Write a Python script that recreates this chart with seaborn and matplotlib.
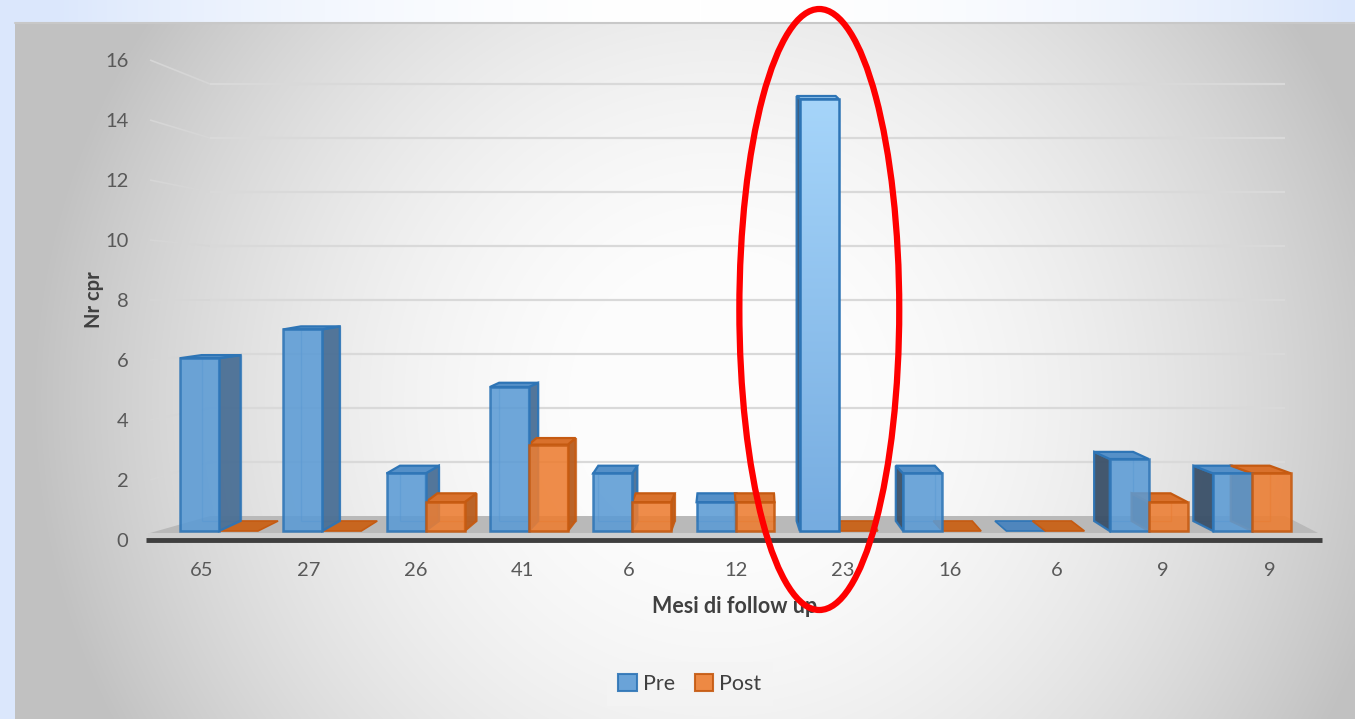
import numpy as np
import pandas as pd
import matplotlib
matplotlib.use("Agg")
import matplotlib.pyplot as plt
import seaborn as sns
from matplotlib.patches import Polygon, Ellipse, Patch
from matplotlib.colors import to_rgb

# ---- data -------------------------------------------------------------
mesi = ["65", "27", "26", "41", "6", "12", "23", "16", "6", "9", "9"]
pre = [6, 7, 2, 5, 2, 1, 15, 2, 0, 2.5, 2]
post = [0, 0, 1, 3, 1, 1, 0, 0, 0, 1, 2]
fasi = ["Pre", "Post"]
y_ticks = [0, 2, 4, 6, 8, 10, 12, 14, 16]

# ---- style ------------------------------------------------------------
W, H = 1355, 719
sns.set_theme(style="white")
plt.rcParams["font.family"] = ["Lato", "DejaVu Sans"]

style = {
    "Pre": dict(front="#5b9bd5", top="#5590c8", side_r="#4a6f95",
                side_l="#3a5068", edge="#2e75b6", plate="#4f86bd"),
    "Post": dict(front="#ed7d31", top="#d9712c", side_r="#b85c1d",
                 side_l="#8f4514", edge="#c55a11", plate="#c8661f"),
}

fig = plt.figure(figsize=(W / 100, H / 100), dpi=100)

# ---- background canvas (pixel coordinates, y downwards) ---------------
bg = fig.add_axes([0, 0, 1, 1], zorder=1)
bg.set_xlim(0, W)
bg.set_ylim(H, 0)
bg.axis("off")

yy, xx = np.mgrid[0:H, 0:W].astype(float)
blue = np.array(to_rgb("#dbe7fc"))
t = np.clip(np.abs(xx - 700) / 650, 0, 1) ** 2
img = (1 - t)[..., None] * np.ones(3) + t[..., None] * blue
d = np.hypot(xx - 720, yy - 400) / 700
val = np.clip(1 - 0.25 * d ** 2, 0.76, 0.99)
chart = (xx >= 15) & (yy >= 22)
img[chart] = val[chart][:, None] * np.ones(3)
bg.imshow(img, extent=(0, W, H, 0), aspect="auto", zorder=0, interpolation="bilinear")
bg.plot([15, W], [22.5, 22.5], color="#c8c8c8", lw=1.5, zorder=0.5)

# ---- plot box ---------------------------------------------------------
L, R, T, B = 148, 1320, 22, 540
rect = [L / W, (H - B) / H, (R - L) / W, (B - T) / H]

ax = fig.add_axes(rect, zorder=2)
ax.patch.set_alpha(0)

df = pd.DataFrame({
    "visita": np.repeat(np.arange(len(mesi)), 2),
    "fase": fasi * len(mesi),
    "valore": np.ravel(np.column_stack([pre, post])),
})
sns.barplot(data=df, x="visita", y="valore", hue="fase", hue_order=fasi,
            palette=[style[f]["front"] for f in fasi], width=0.755,
            saturation=1, errorbar=None, legend=False, ax=ax)


def set_front_limits():
    # front-face scale: groups 103.3 px apart from 219 px, 28.8 px per unit up from 531 px
    ax.set_xlim((L - 219) / 103.3, (R - 219) / 103.3)
    ax.set_ylim((531 - B) / 28.8, (531 - T) / 28.8)


set_front_limits()
ax.axis("off")


def to_px(a, x, y):
    X, Y = a.transData.transform((x, y))
    return X, H - Y


# ---- back wall grid and floor ----------------------------------------
def label_y(v):
    return 540 - 30 * v


def wall_y(v):
    return 516 - 27 * v


for v in y_ticks[1:]:
    bg.plot([150, 210], [label_y(v), wall_y(v)], color="#d6d6d6", lw=1.2,
            zorder=1, solid_capstyle="butt")
    bg.plot([210, 1285], [wall_y(v), wall_y(v)], color="#d9d9d9", lw=1.6,
            zorder=1, solid_capstyle="butt")

bg.add_patch(Polygon([(150, 533), (210, 516), (1285, 516), (1318, 533)],
                     closed=True, fc="#b9b9b9", ec="none", zorder=1.2))
bg.add_patch(Polygon([(148, 533), (1320, 533), (1320, 538), (148, 538)],
                     closed=True, fc="#cfcfcf", ec="none", zorder=1.2))
bg.plot([146, 1322], [539.5, 539.5], color="#3f3f3f", lw=3.5, zorder=1.3,
        solid_capstyle="butt")

# ---- box depth for each bar -------------------------------------------
VP_X, K = 740, 0.04
tallest = None
for cont, fase in zip(ax.containers, fasi):
    st = style[fase]
    for bar in cont.patches:
        x0, x1 = bar.get_x(), bar.get_x() + bar.get_width()
        h = bar.get_height()
        px0, pyb = to_px(ax, x0, 0)
        px1, pyt = to_px(ax, x1, h)
        dx = K * (VP_X - (px0 + px1) / 2)
        dy = min(-10 + 1.15 * h, -3)
        if h <= 0:
            bg.add_patch(Polygon([(px0, pyb), (px1, pyb), (px1 + dx, pyb + dy),
                                  (px0 + dx, pyb + dy)], closed=True,
                                 fc=st["plate"], ec=st["edge"], lw=1.2, zorder=2))
            bar.set_visible(False)
            continue
        # hidden back edges seen through the translucent faces
        bg.add_patch(Polygon([(px0 + dx, pyb - 10), (px1 + dx, pyb - 10),
                              (px1 + dx, pyt + dy), (px0 + dx, pyt + dy)],
                             closed=True, fc="none", ec=st["edge"], lw=1.0,
                             alpha=0.45, zorder=2))
        if dx >= 0:
            side = [(px1, pyb), (px1, pyt), (px1 + dx, pyt + dy), (px1 + dx, pyb - 10)]
            sc = st["side_r"]
        else:
            side = [(px0, pyb), (px0, pyt), (px0 + dx, pyt + dy), (px0 + dx, pyb - 10)]
            sc = st["side_l"]
        bg.add_patch(Polygon(side, closed=True, fc=sc, ec=st["edge"], lw=1.6,
                             alpha=0.95, zorder=2.2))
        top_c = st["top"]
        if fase == "Pre" and h == max(pre):
            top_c = "#9ccbf2"
            tallest = bar
        bg.add_patch(Polygon([(px0, pyt), (px1, pyt), (px1 + dx, pyt + dy),
                              (px0 + dx, pyt + dy)], closed=True,
                             fc=top_c, ec=st["edge"], lw=1.6, zorder=2.3))
        bar.set_alpha(0.88)
        bar.set_edgecolor(st["edge"])
        bar.set_linewidth(1.8)
        bar.set_zorder(3)

# lighter gradient on the highlighted tallest bar
if tallest is not None:
    g = np.linspace(0, 1, 256)[:, None, None]
    c_top, c_bot = np.array(to_rgb("#a6d5fa")), np.array(to_rgb("#76ace0"))
    grad = np.repeat((1 - g) * c_top + g * c_bot, 2, axis=1)
    x0 = tallest.get_x()
    im = ax.imshow(grad, extent=(x0, x0 + tallest.get_width(), 0, tallest.get_height()),
                   origin="upper", aspect="auto", zorder=2.95, interpolation="bilinear")
    im.set_clip_path(tallest)
    tallest.set_facecolor("none")
    tallest.set_alpha(None)
    set_front_limits()

# ---- tick labels on the front edge -------------------------------------
lab = fig.add_axes(rect, zorder=3)
lab.patch.set_alpha(0)
for s in lab.spines.values():
    s.set_visible(False)
lab.set_xlim((L - 202) / 106.8, (R - 202) / 106.8)
lab.set_ylim(0, (B - T) / 30)
lab.set_xticks(range(len(mesi)), mesi)
lab.set_yticks(y_ticks, [str(v) for v in y_ticks])
lab.tick_params(axis="both", length=0, labelsize=14.5, labelcolor="#595959")
lab.tick_params(axis="y", pad=14)
lab.tick_params(axis="x", pad=16)
lab.set_ylabel("Nr cpr", fontsize=14.5, fontweight="bold", color="#404040")
lab.yaxis.set_label_coords((104 - L) / (R - L), (B - 300) / (B - T))
lab.set_xlabel("Mesi di follow up", fontsize=15.5, fontweight="bold", color="#404040")
lab.xaxis.set_label_coords((735 - L) / (R - L), (B - 596) / (B - T))

# ---- legend -----------------------------------------------------------
handles = [Patch(fc=style[f]["front"], ec=style[f]["edge"], lw=1.5, alpha=0.9) for f in fasi]
leg = fig.legend(handles, fasi, loc="center", bbox_to_anchor=(690 / W, 1 - 684 / H),
                 ncol=2, fontsize=15.5, frameon=True, facecolor="#f4f4f4",
                 edgecolor="none", fancybox=False, handlelength=0.85,
                 handleheight=0.85, handletextpad=0.3, columnspacing=0.9,
                 borderpad=0.55)
for txt in leg.get_texts():
    txt.set_color("#404040")

# ---- highlight ring around the tallest bar ----------------------------
over = fig.add_axes([0, 0, 1, 1], zorder=10)
over.set_xlim(0, W)
over.set_ylim(H, 0)
over.axis("off")
over.patch.set_alpha(0)
if tallest is not None:
    tx0, tyb = to_px(ax, tallest.get_x(), 0)
    tx1, tyt = to_px(ax, tallest.get_x() + tallest.get_width(), tallest.get_height())
    top_e, bot_e = tyt - 90, tyb + 79
    over.add_patch(Ellipse(((tx0 + tx1) / 2, (top_e + bot_e) / 2),
                           width=(tx1 - tx0) * 4.1, height=bot_e - top_e,
                           fc="none", ec="#ff0000", lw=4.5))

fig.savefig("out.png", dpi=100)
